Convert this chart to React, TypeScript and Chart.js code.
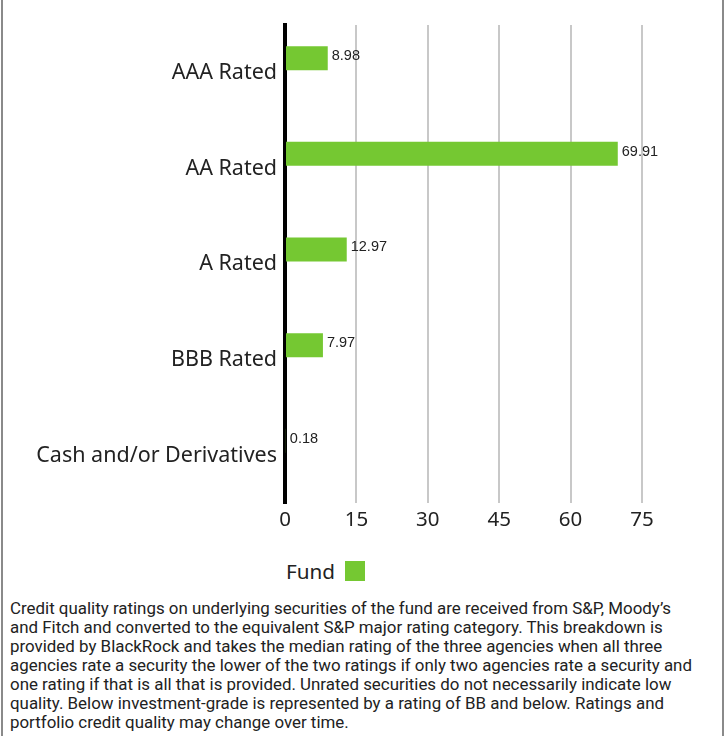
import React, { useEffect, useRef } from 'react';
import { Chart, registerables } from 'chart.js';

Chart.register(...registerables);

const categories = ['AAA Rated', 'AA Rated', 'A Rated', 'BBB Rated', 'Cash and/or Derivatives'];
const fundValues = [8.98, 69.91, 12.97, 7.97, 0.18];
const benchmarkValues: (number | null)[] = [null, null, null, null, null];
const xTickValues = [0, 15, 30, 45, 60, 75];
const seriesNames = ['Fund', 'Benchmark'];
const footnote =
  'Credit quality ratings on underlying securities of the fund are received from S&P, Moody\u2019s and Fitch and converted to the equivalent S&P major rating category. This breakdown is provided by BlackRock and takes the median rating of the three agencies when all three agencies rate a security the lower of the two ratings if only two agencies rate a security and one rating if that is all that is provided. Unrated securities do not necessarily indicate low quality. Below investment-grade is represented by a rating of BB and below. Ratings and portfolio credit quality may change over time.';

const GREEN = '#75c832';
const TEXT = '#222222';
const AXIS_FONT = '"Noto Sans", "Open Sans", sans-serif';

const valueLabels = {
  id: 'valueLabels',
  afterDatasetsDraw(chart: any) {
    const ctx = chart.ctx;
    const meta = chart.getDatasetMeta(0);
    ctx.save();
    ctx.font = '14.5px "Liberation Sans", Arial, sans-serif';
    ctx.fillStyle = TEXT;
    ctx.textBaseline = 'middle';
    ctx.textAlign = 'left';
    meta.data.forEach((bar: any, i: number) => {
      const v = fundValues[i];
      if (v == null) return;
      ctx.fillText(v.toFixed(2), bar.x + 4, bar.y - 2);
    });
    ctx.restore();
  },
};

export default function App() {
  const canvasRef = useRef<HTMLCanvasElement | null>(null);

  useEffect(() => {
    document.body.style.margin = '0';
    const canvas = canvasRef.current;
    if (!canvas) return;
    const chart = new Chart(canvas, {
      type: 'bar',
      data: {
        labels: categories,
        datasets: [
          {
            label: seriesNames[0],
            data: fundValues,
            backgroundColor: GREEN,
            borderWidth: 0,
            categoryPercentage: 0.615,
            barPercentage: 0.816,
          },
          {
            label: seriesNames[1],
            data: benchmarkValues as any,
            backgroundColor: '#999999',
            borderWidth: 0,
            categoryPercentage: 0.615,
            barPercentage: 0.816,
          },
        ],
      },
      options: {
        indexAxis: 'y',
        responsive: false,
        animation: false,
        layout: { padding: { top: 25, right: 80, bottom: 4, left: 0 } },
        plugins: {
          legend: { display: false },
          tooltip: { enabled: false },
        },
        scales: {
          x: {
            type: 'linear',
            min: xTickValues[0],
            max: xTickValues[xTickValues.length - 1],
            afterBuildTicks: (scale: any) => {
              scale.ticks = xTickValues.map((v) => ({ value: v }));
            },
            ticks: {
              font: { family: AXIS_FONT, size: 20.5 },
              color: TEXT,
              padding: 4,
            },
            grid: { color: '#c8c8c8', lineWidth: 2, drawTicks: false },
            border: { display: false },
          },
          y: {
            type: 'category',
            afterFit: (scale: any) => {
              scale.width = 282;
            },
            ticks: {
              font: { family: AXIS_FONT, size: 21.5 },
              color: TEXT,
              padding: 8,
            },
            grid: { display: false, drawTicks: false },
            border: { display: true, color: '#000000', width: 4 },
          },
        },
      },
      plugins: [valueLabels],
    });
    return () => chart.destroy();
  }, []);

  return (
    <div
      style={{
        marginLeft: 1,
        width: 719,
        height: 736,
        borderLeft: '2px solid #8a8a8a',
        borderRight: '2px solid #8a8a8a',
        boxSizing: 'content-box',
        overflow: 'hidden',
      }}
    >
      <canvas ref={canvasRef} width={719} height={540} style={{ display: 'block' }} />
      <div
        style={{
          height: 29,
          paddingTop: 16,
          display: 'flex',
          alignItems: 'center',
          boxSizing: 'content-box',
        }}
      >
        <span
          style={{
            marginLeft: 283,
            font: `20.7px ${AXIS_FONT}`,
            color: TEXT,
            lineHeight: '20px',
          }}
        >
          {seriesNames[0]}
        </span>
        <span
          style={{
            display: 'inline-block',
            marginLeft: 10,
            width: 20,
            height: 20,
            background: GREEN,
          }}
        />
      </div>
      <div
        style={{
          width: 690,
          padding: '14px 0 0 7px',
          font: '16.9px Roboto, "Noto Sans", sans-serif',
          lineHeight: '19px',
          color: TEXT,
        }}
      >
        {footnote}
      </div>
    </div>
  );
}
